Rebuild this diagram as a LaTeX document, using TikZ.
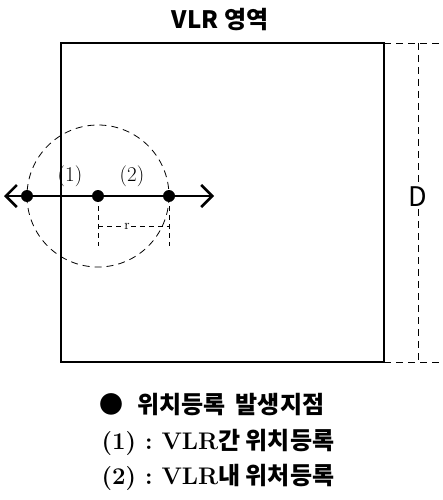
\documentclass[tikz,border=0pt]{standalone}
\usepackage{fontspec}
\newfontfamily\kr{Noto Sans CJK KR}
\usetikzlibrary{arrows.meta, positioning, calc}

\begin{document}
\begin{tikzpicture}[
    x=1pt, y=-1pt,
    region/.style={line width=2.5pt},
    dim/.style={dash pattern=on 7pt off 5pt, line width=0.8pt},
    spot/.style={circle, fill, inner sep=0pt, minimum size=12pt},
    arrow/.style={{Straight Barb[length=11pt,width=22pt]}-{Straight Barb[length=11pt,width=22pt]}, line width=2.5pt},
    lbl/.style={font=\fontsize{21}{24}\selectfont},
    legend/.style={anchor=west, font=\bfseries\fontsize{24}{28}\selectfont}
]
    \useasboundingbox (0,0) rectangle (443,500);
    % area and title
    \coordinate (tl) at (61,43);
    \coordinate (br) at (384,362);
    \draw[region] (tl) rectangle (br);
    \node[font=\kr\bfseries\fontsize{24}{28}\selectfont] (title) at (220,20) {VLR 영역};
    % dimension D
    \coordinate (dtop) at (443,43);
    \coordinate (dbot) at (443,362);
    \coordinate (tr) at (384,43);
    \coordinate (bl) at (384,362);
    \node[font=\kr\fontsize{27}{30}\selectfont, fill=white, inner sep=2pt] (dlab) at (418,197) {D};
    \draw[dim] (tr) -- (dtop);
    \draw[dim] (bl) -- (dbot);
    \draw[dim] (418,43) -- (dlab.north);
    \draw[dim] (dlab.south) -- (418,362);
    % registration spots
    \node[spot] (p1) at (27,196) {};
    \node[spot] (p2) at (98,196) {};
    \node[spot] (p3) at (169,196) {};
    \draw[dim] (p2) circle[radius=71];
    \coordinate (aL) at (4,196);
    \coordinate (aR) at (214,196);
    \draw[arrow] (aL) -- (aR);
    \node[lbl] (l1) at (70,176) {(1)};
    \node[lbl] (l2) at (132,176) {(2)};
    % radius r
    \node[font=\fontsize{14}{16}\selectfont, inner sep=1pt] (rlab) at (127,226) {r};
    \draw[dim, dash pattern=on 5pt off 4pt] (p2.south) ++(0,4) -- (98,246);
    \draw[dim, dash pattern=on 5pt off 4pt] (p3.south) ++(0,4) -- (169,246);
    \draw[dim, dash pattern=on 5pt off 4pt] (98,226) -- (rlab.west);
    \draw[dim, dash pattern=on 5pt off 4pt] (rlab.east) -- (169,226);
    % legend
    \node[legend] (k1) at (96,405) {{\kr ●\hspace{14pt}위치등록\hspace{10pt}발생지점}};
    \node[legend] (k2) at (98,442) {(1)\ :\ VLR{\kr 간 위치등록}};
    \node[legend] (k3) at (98,477) {(2)\ :\ VLR{\kr 내 위처등록}};
\end{tikzpicture}
\end{document}
